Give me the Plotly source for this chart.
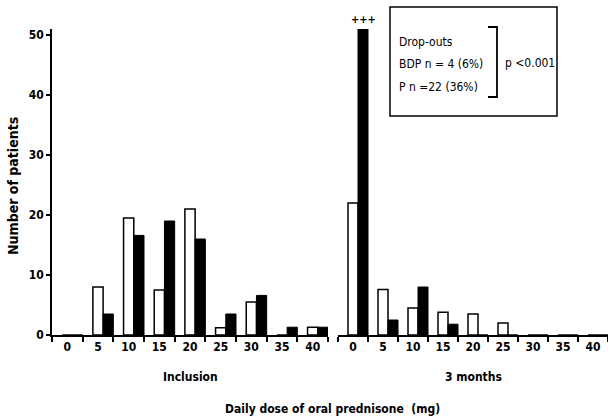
import plotly.graph_objects as go

doses = ["0", "5", "10", "15", "20", "25", "30", "35", "40"]
# Inclusion
incl_bdp = [0, 8, 19.5, 7.5, 21, 1.2, 5.5, 0, 1.3]
incl_p = [0, 3.5, 16.6, 19, 16, 3.5, 6.6, 1.3, 1.3]
# 3 months
m3_bdp = [22, 7.6, 4.5, 3.8, 3.5, 2, 0, 0, 0]
m3_p = [51, 2.5, 8, 1.8, 0, 0, 0, 0, 0]

yticks = [0, 10, 20, 30, 40, 50]

W, H = 608, 417
ML, MR, MT, MB = 52, 0, 29, 82
PW, PH = W - ML - MR, H - MT - MB

def px(x):
    return (x - ML) / PW

def py(y):
    return (H - MB - y) / PH

FONT = "DejaVu Sans Condensed, Liberation Sans Narrow, Liberation Sans, Arial, sans-serif"

fig = go.Figure()
bw = 1 / 3
for xa, ya, bdp, p in [("x", "y", incl_bdp, incl_p), ("x2", "y2", m3_bdp, m3_p)]:
    fig.add_trace(go.Bar(x=doses, y=bdp, xaxis=xa, yaxis=ya, width=bw, offset=-bw / 2,
                         marker=dict(color="white", line=dict(color="black", width=1.5)),
                         name="BDP", showlegend=False))
    fig.add_trace(go.Bar(x=doses, y=p, xaxis=xa, yaxis=ya, width=bw, offset=bw / 2,
                         marker=dict(color="black", line=dict(color="black", width=1)),
                         name="P", showlegend=False))

tick_font = dict(family=FONT, size=12, color="black", weight="bold")
xcommon = dict(type="category", tickson="boundaries", ticks="outside", ticklen=5,
               tickwidth=1.5, tickcolor="black", showline=True, linecolor="black",
               linewidth=1.5, showgrid=False, zeroline=False,
               tickfont=tick_font, fixedrange=True, range=[-0.5, 8.5])

fig.update_layout(
    width=W, height=H,
    margin=dict(l=ML, r=MR, t=MT, b=MB),
    paper_bgcolor="white", plot_bgcolor="white",
    barmode="overlay",
    font=dict(family=FONT, color="black"),
    xaxis=dict(domain=[0, px(328)], anchor="y", **xcommon),
    xaxis2=dict(domain=[px(338), 1], anchor="y2", **xcommon),
    yaxis=dict(domain=[0, 1], anchor="x", range=[0, 51], tickvals=yticks,
               ticks="outside", ticklen=4, tickwidth=1.5, tickcolor="black",
               showline=True, linecolor="black", linewidth=1.5, showgrid=False,
               zeroline=False, tickfont=tick_font),
    yaxis2=dict(domain=[0, 1], anchor="x2", range=[0, 51], showline=False,
                showticklabels=False, ticks="", showgrid=False, zeroline=False),
)

ann_font = dict(family=FONT, size=12, color="black")
title_font = dict(family=FONT, size=14, color="black")
box_font = dict(family=FONT, size=12, color="black")

def ann(text, x, y, font, xanchor="center", **kw):
    return dict(text=text, x=px(x), y=py(y), xref="paper", yref="paper",
                xanchor=xanchor, yanchor="middle", showarrow=False, font=font, **kw)

annotations = [
    ann("<b>Number of patients</b>", 13, 186, title_font, textangle=-90),
    ann("<b>Inclusion</b>", 190, 377, ann_font),
    ann("<b>3 months</b>", 473, 377, ann_font),
    ann("<b>Daily dose of oral prednisone  (mg)</b>", 332, 409, ann_font),
    ann("Drop-outs", 397, 42, box_font, xanchor="left"),
    ann("BDP n = 4 (6%)", 397, 64, box_font, xanchor="left"),
    ann("P n =22 (36%)", 397, 87, box_font, xanchor="left"),
    ann("p <0.001", 503, 63, box_font, xanchor="left"),
    dict(text="<b>+++</b>", x=1 / 3, y=51, xref="x2", yref="y2", xanchor="center",
         yanchor="bottom", yshift=1, showarrow=False,
         font=dict(family=FONT, size=11, color="black")),
]
fig.update_layout(annotations=annotations)

shapes = [
    dict(type="rect", xref="paper", yref="paper", x0=px(390), x1=px(557), y0=py(116), y1=py(7),
         line=dict(color="black", width=1.5)),
    dict(type="path", xref="paper", yref="paper",
         path=f"M {px(488)},{py(27)} L {px(497)},{py(27)} L {px(497)},{py(97)} L {px(488)},{py(97)}",
         line=dict(color="black", width=1.8)),
]
fig.update_layout(shapes=shapes)

fig.write_html("out.html", config={"displayModeBar": False},
               post_script="document.body.style.margin='0';document.body.style.overflow='hidden';")
